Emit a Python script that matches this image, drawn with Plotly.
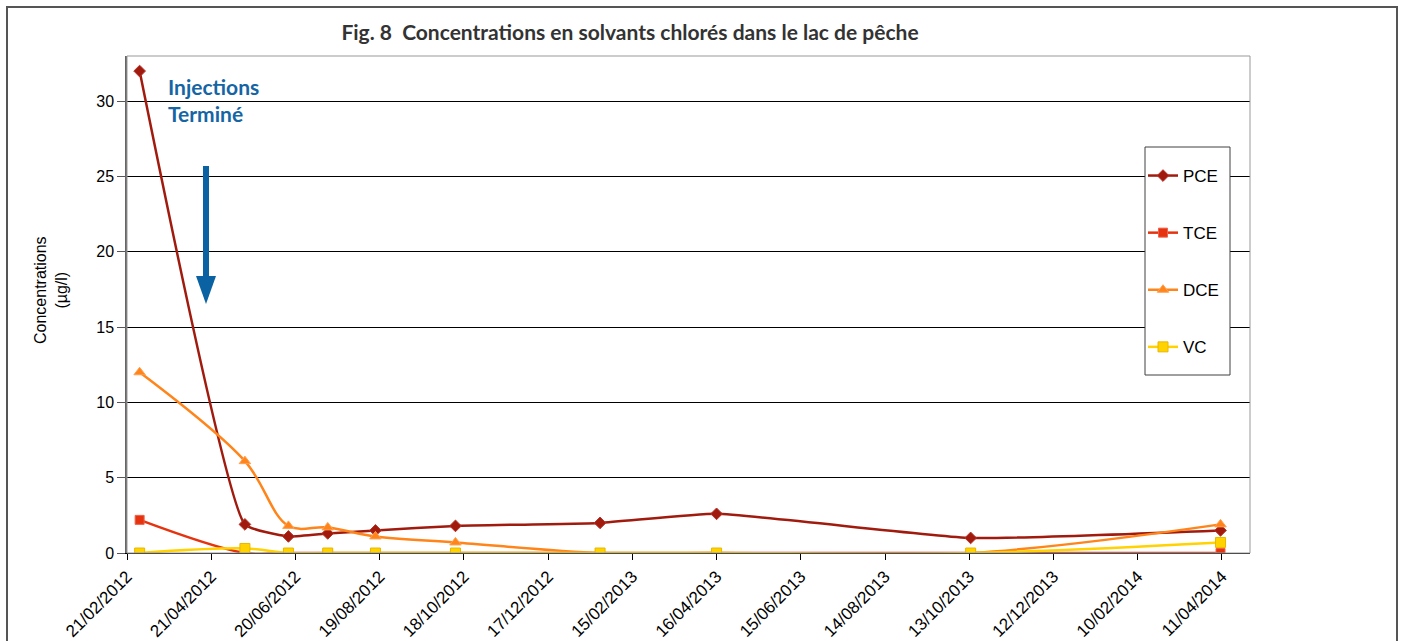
import plotly.graph_objects as go

dates = ["2012-03-01", "2012-05-15", "2012-06-15", "2012-07-13", "2012-08-16",
         "2012-10-12", "2013-01-23", "2013-04-16", "2013-10-14", "2014-04-10"]
pce = [32.0, 1.9, 1.1, 1.3, 1.5, 1.8, 2.0, 2.6, 1.0, 1.5]
tce = [2.2, 0.0, 0.0, 0.0, 0.0, 0.0, 0.0, 0.0, 0.0, 0.0]
dce = [12.0, 6.1, 1.8, 1.7, 1.1, 0.7, 0.0, 0.0, 0.0, 1.9]
vc = [0.0, 0.3, 0.0, 0.0, 0.0, 0.0, 0.0, 0.0, 0.0, 0.7]

series = [
    ("PCE", pce, "#A01B0E", "diamond", 9, "#B8352A", 0.4),
    ("TCE", tce, "#E5330F", "square", 9, "#F0604A", 1.0),
    ("DCE", dce, "#FF8419", "triangle-up", 10, "#FFA050", 1.0),
    ("VC", vc, "#FFD200", "square", 10, "#E8B800", 1.0),
]

W, H = 1405, 641
L, R, T, B = 127, 1250, 56, 553


def px(x):
    return (x - L) / (R - L)


def py(y):
    return (B - y) / (B - T)


fig = go.Figure()
for name, vals, col, sym, size, edge, smooth in series:
    fig.add_trace(go.Scatter(
        x=dates, y=vals, name=name, mode="lines+markers",
        legendgroup=name,
        line=dict(color=col, width=2.5, shape="spline", smoothing=smooth),
        marker=dict(symbol=sym, size=size, color=col, line=dict(color=edge, width=1)),
    ))

FONT = "Liberation Sans, Arial, sans-serif"

fig.update_layout(
    width=W, height=H,
    margin=dict(l=L, r=W - R, t=T, b=H - B, autoexpand=False),
    paper_bgcolor="white", plot_bgcolor="white",
    font=dict(family=FONT, size=16, color="#000"),
    title=dict(text="<b>Fig. 8  Concentrations en solvants chlorés dans le lac de pêche</b>",
               font=dict(family="Lato, sans-serif", size=21, color="#333333"),
               x=630 / W, xanchor="center", y=1 - 33 / H, yanchor="middle"),
    xaxis=dict(
        type="date", range=["2012-02-21", "2014-05-01"], automargin=False,
        tick0="2012-02-21", dtick=60 * 86400000, tickformat="%d/%m/%Y",
        tickangle=-45, ticks="outside", ticklen=6, tickcolor="#000",
        showgrid=False, showline=True, linecolor="#000", linewidth=1,
        tickfont=dict(family=FONT, size=17, color="#000"), zeroline=False,
    ),
    yaxis=dict(
        range=[0, 33], tick0=0, dtick=5, ticks="outside", ticklen=8, tickcolor="#555",
        automargin=False,
        showgrid=True, gridcolor="#000", gridwidth=1, zeroline=False,
        showline=True, linecolor="#666", linewidth=1.5,
        tickfont=dict(family=FONT, size=16, color="#000"),
    ),
    showlegend=True,
    legend=dict(
        x=px(1143), xanchor="left", y=py(158), yanchor="top",
        bgcolor="rgba(0,0,0,0)", borderwidth=0,
        font=dict(family=FONT, size=17, color="#000"),
        traceorder="grouped", tracegroupgap=32, itemwidth=30,
    ),
)

shapes = [
    # plot area border
    dict(type="rect", xref="paper", yref="paper", x0=0, x1=1, y0=0, y1=1,
         line=dict(color="#999999", width=1), layer="above"),
    # legend box
    dict(type="rect", xref="paper", yref="paper", x0=px(1145), x1=px(1230),
         y0=py(375), y1=py(147), fillcolor="white",
         line=dict(color="#404040", width=1), layer="above"),
    # outer frame
    dict(type="rect", xref="paper", yref="paper", x0=px(7), x1=px(1397),
         y0=py(680), y1=py(7), line=dict(color="#555555", width=2), layer="above"),
    # arrow shaft
    dict(type="line", xref="paper", yref="paper", x0=px(206), x1=px(206),
         y0=py(166), y1=py(278), line=dict(color="#0A62A3", width=6), layer="above"),
    # arrow head
    dict(type="path", xref="paper", yref="paper",
         path=f"M {px(196)},{py(276)} L {px(216)},{py(276)} L {px(206)},{py(304)} Z",
         fillcolor="#0A62A3", line=dict(color="#0A62A3", width=0), layer="above"),
]
fig.update_layout(shapes=shapes)

fig.add_annotation(
    text="<b>Injections<br>Terminé</b>", xref="paper", yref="paper",
    x=px(166), y=py(100), xanchor="left", yanchor="middle", align="left",
    showarrow=False, font=dict(family="Lato, sans-serif", size=21, color="#1565A5"),
)
fig.add_annotation(
    text="Concentrations<br>(µg/l)", xref="paper", yref="paper",
    x=px(51), y=py(290), xanchor="center", yanchor="middle", textangle=-90,
    showarrow=False, font=dict(family=FONT, size=16, color="#000"),
)

fig.write_html("out.html", config={"displayModeBar": False},
               post_script="document.body.style.margin='0px';")
